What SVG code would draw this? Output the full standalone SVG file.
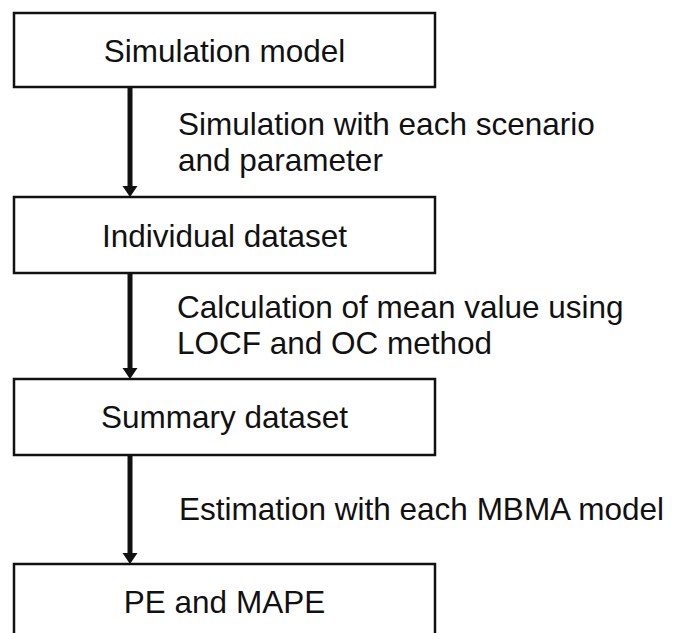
<svg xmlns="http://www.w3.org/2000/svg" width="674" height="633" viewBox="0 0 674 633">
<style>
.box{fill:#fff;stroke:#111;stroke-width:2.5}
.t{font-family:"Liberation Sans",Arial,sans-serif;font-size:31.5px;fill:#111}
.c{text-anchor:middle}
.ln{stroke:#111;stroke-width:5}
.hd{fill:#111}
</style>
<rect width="674" height="633" fill="#fff"/>
<g id="n1"><rect class="box" x="14" y="13" width="421" height="74"/><text class="t c" x="224.5" y="62">Simulation model</text></g>
<g id="n2"><rect class="box" x="14" y="197" width="421" height="76"/><text class="t c" x="224.5" y="247">Individual dataset</text></g>
<g id="n3"><rect class="box" x="14" y="379" width="421" height="76"/><text class="t c" x="224.5" y="428">Summary dataset</text></g>
<g id="n4"><rect class="box" x="14" y="564" width="421" height="90"/><text class="t c" x="224.5" y="613">PE and MAPE</text></g>
<g id="connectors">
<line class="ln" x1="130" y1="88" x2="130" y2="188"/><polygon class="hd" points="122.5,186 137.5,186 130,197"/>
<line class="ln" x1="130" y1="274" x2="130" y2="370"/><polygon class="hd" points="122.5,368 137.5,368 130,379"/>
<line class="ln" x1="130" y1="456" x2="130" y2="555"/><polygon class="hd" points="122.5,553 137.5,553 130,564"/>
</g>
<g id="labels">
<text class="t" x="178" y="135">Simulation with each scenario</text>
<text class="t" x="178" y="171">and parameter</text>
<text class="t" x="177" y="318">Calculation of mean value using</text>
<text class="t" x="177" y="354">LOCF and OC method</text>
<text class="t" x="179" y="520">Estimation with each MBMA model</text>
</g>
</svg>
